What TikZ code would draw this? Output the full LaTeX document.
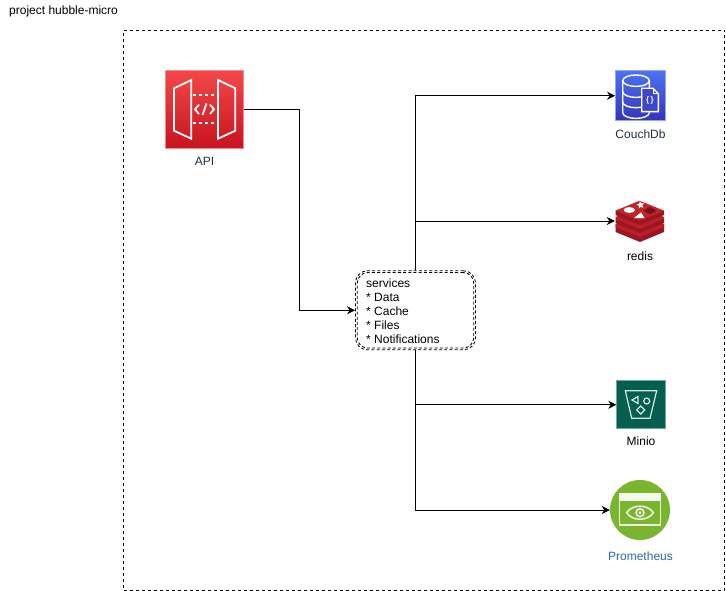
\documentclass[tikz,border=0pt]{standalone}
\usepackage{fontspec}
\setmainfont{Liberation Sans}
\usetikzlibrary{arrows.meta,shapes.geometric}
\definecolor{inkdark}{HTML}{232F3E}
\definecolor{redtop}{HTML}{F54749}
\definecolor{redbot}{HTML}{C7131F}
\definecolor{redline}{HTML}{F98A8C}
\definecolor{blutop}{HTML}{4D72F3}
\definecolor{blubot}{HTML}{3334B9}
\definecolor{bluline}{HTML}{93A6F6}
\definecolor{mingreen}{HTML}{055F4E}
\definecolor{minline}{HTML}{6FA79A}
\definecolor{rdtop}{HTML}{C1232B}
\definecolor{rdmid}{HTML}{B81F28}
\definecolor{rddark}{HTML}{9A1620}
\definecolor{promgreen}{HTML}{7AB52F}
\definecolor{promblue}{HTML}{2F66B5}
\tikzset{
  conn/.style={draw=black,line width=1pt,-{Stealth[length=8pt,width=8pt,inset=2.5pt]}},
  txt/.style={font=\fontsize{12}{14}\selectfont,inner sep=0pt,text=black},
  iconlabel/.style={txt,text=inkdark},
  frame/.style={draw=black,line width=0.9pt,dash pattern=on 3pt off 3pt},
  whiteline/.style={draw=white,line width=1.8pt,line join=miter},
  iconbox/.style={rectangle,inner sep=0pt,line width=0.8pt},
  hole/.style={rectangle,inner sep=0pt,draw=none,fill=none},
  dashedbox/.style={rectangle,draw=black,line width=0.85pt,dash pattern=on 3pt off 2.2pt,inner sep=0pt}
}
\begin{document}
\begin{tikzpicture}[x=1pt,y=-1pt]
\useasboundingbox (0,0) rectangle (726,591);
\fill[white] (0,0) rectangle (726,591);
\node[hole,minimum width=600.5pt,minimum height=560pt,frame] (outer) at (423.75,310) {};
\node[txt,anchor=west] (title) at (9,11) {project hubble-micro};

% API
\node[iconbox,minimum width=78pt,minimum height=78pt,top color=redtop,bottom color=redbot,draw=redline] (api) at (204.5,109.5) {};
\draw[whiteline] (174,88.3) -- (191.3,80) -- (191.3,138.7) -- (174,130.7) -- cycle;
\draw[whiteline] (218,80) -- (235.3,88.3) -- (235.3,130.7) -- (218,138.7) -- cycle;
\draw[whiteline,dash pattern=on 3.5pt off 2.6pt] (192.5,95) -- (218,95);
\draw[whiteline,dash pattern=on 3.5pt off 2.6pt] (192.5,122.7) -- (218,122.7);
\draw[whiteline] (199,104.5) -- (195,109.3) -- (199,114);
\draw[whiteline] (210,104.5) -- (214,109.3) -- (210,114);
\draw[whiteline] (206.5,103.5) -- (202.5,115);
\node[iconlabel] (apilabel) at (204.5,161) {API};

% services
\node[dashedbox,rounded corners=12pt,minimum width=120pt,minimum height=79pt,fill=white] (svc) at (415.5,310.3) {};
\node[dashedbox,rounded corners=10.5pt,minimum width=116.5pt,minimum height=75.5pt] (svcinner) at (svc.center) {};
\node[txt,anchor=north west,align=left] (svctext) at (366,279) {services\\* Data\\* Cache\\* Files\\* Notifications};

% CouchDb
\node[iconbox,minimum width=50pt,minimum height=50pt,top color=blutop,bottom color=blubot,draw=bluline] (couch) at (640.5,95.7) {};
\begin{scope}[whiteline/.append style={line width=1.4pt}]
\draw[whiteline] (622.7,80.7) -- (622.7,112.7) arc[start angle=180,end angle=360,x radius=13.3pt,y radius=5.7pt] -- (649.3,80.7);
\draw[whiteline] (636,80.7) ellipse [x radius=13.3pt,y radius=5.7pt];
\draw[whiteline] (622.7,91.7) arc[start angle=180,end angle=360,x radius=13.3pt,y radius=5.7pt];
\draw[whiteline] (622.7,102) arc[start angle=180,end angle=360,x radius=13.3pt,y radius=5.7pt];
\draw[whiteline,fill=blubot!70!blutop] (641.7,88.3) -- (653,88.3) -- (658.3,93.6) -- (658.3,111.7) -- (641.7,111.7) -- cycle;
\draw[whiteline,line width=1pt] (653,88.3) -- (653,93.6) -- (658.3,93.6);
\end{scope}
\node[txt,text=white,font=\fontsize{8}{9}\selectfont\bfseries] (couchcode) at (650,100.5) {\{\,\}};
\node[iconlabel] (couchlabel) at (640.5,134) {CouchDb};

% redis
\node[hole,minimum width=49pt,minimum height=41pt] (redis) at (639.5,221) {};
\fill[rddark] (615.5,224) -- (639.5,214) -- (664,224) -- (664,232) -- (640,242) -- (615.5,232) -- cycle;
\fill[rdmid] (615.5,224.5) -- (639.5,214.5) -- (664,224.5) -- (664,227) -- (640,237) -- (615.5,227) -- cycle;
\fill[rddark] (615.5,219) -- (639.5,209) -- (664,219) -- (664,223) -- (640,233) -- (615.5,223) -- cycle;
\fill[rdmid] (615.5,217) -- (639.5,207) -- (664,217) -- (664,219) -- (640,229) -- (615.5,219) -- cycle;
\fill[rddark] (615.5,210.7) -- (664,210.7) -- (664,215) -- (640,225) -- (615.5,215) -- cycle;
\fill[rdtop] (615.5,210.7) -- (639.5,200.7) -- (664,210.7) -- (640,220.7) -- cycle;
\fill[white] (629.3,210) ellipse [x radius=5.7pt,y radius=2.9pt];
\node[star,star points=5,star point ratio=2.2,fill=white,inner sep=0pt,minimum size=8pt,rotate=10] (redisstar) at (640.5,205) {};
\fill[white] (634,218) -- (644.5,218) -- (641,212.3) -- cycle;
\fill[rddark!75!black] (650,207) -- (656.5,210.7) -- (650,214.3) -- (643.5,210.7) -- cycle;
\node[iconlabel,text=black] (redislabel) at (640,256) {redis};

% Minio
\node[iconbox,minimum width=48.5pt,minimum height=48pt,fill=mingreen,draw=minline] (minio) at (641,404.7) {};
\begin{scope}[every path/.style={draw=white!85!mingreen,line width=1.2pt}]
\draw (625.3,390.7) -- (656.7,390.7) -- (650,418.3) -- (631.7,418.3) -- cycle;
\draw (638,396.5) -- (632,400) -- (638,403.5) -- cycle;
\draw (646.7,401) circle [radius=3pt];
\draw (640.7,406) -- (644.7,410) -- (640.7,414) -- (636.7,410) -- cycle;
\end{scope}
\node[iconlabel,text=black] (miniolabel) at (641,441) {Minio};

% Prometheus
\node[circle,inner sep=0pt,minimum size=60pt,fill=promgreen] (prom) at (640,510) {};
\draw[draw=white!85!promgreen,line width=1.3pt] (619.7,493.7) rectangle (660.3,525);
\fill[white!92!promgreen] (619.3,493.3) rectangle (660.7,500.7);
\draw[draw=white!90!promgreen,line width=1.5pt] (626.7,512.7) .. controls (632,504) and (648,504) .. (653.3,512.7) .. controls (648,521.4) and (632,521.4) .. (626.7,512.7) -- cycle;
\draw[draw=white!90!promgreen,line width=1.5pt] (640,512.7) circle [radius=4pt];
\fill[white!90!promgreen] (640,512.7) circle [radius=1.6pt];
\node[iconlabel,text=promblue] (promlabel) at (640.5,556) {Prometheus};

% connectors
\path[conn] (api.east) -- ++(55.5,0) |- (svc.west);
\path[conn] (svc.north) |- (couch.west);
\path[conn] (svc.north) |- (redis.west);
\path[conn] (svc.south) |- (minio.west);
\path[conn] (svc.south) |- (prom.west);
\end{tikzpicture}
\end{document}
